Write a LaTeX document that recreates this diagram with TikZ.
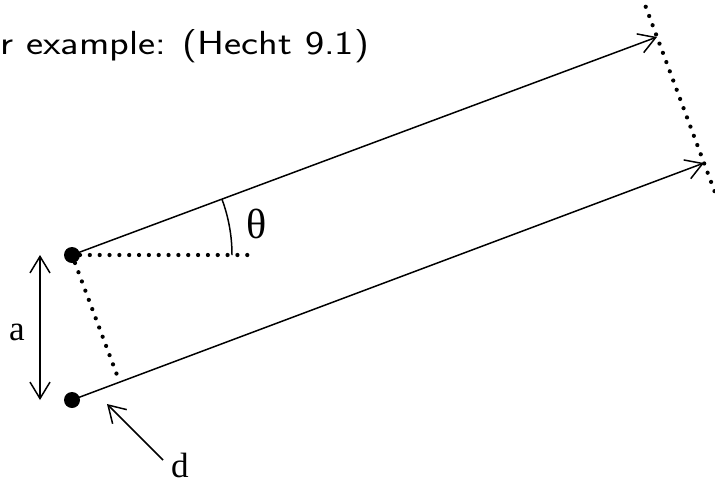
\documentclass[tikz,border=0pt]{standalone}
\usepackage{fontspec}
\newfontfamily\lblfont{Liberation Serif}
\usepackage{tikz}
\usetikzlibrary{calc, arrows.meta}

\tikzset{
  ray/.style = {line width=0.85pt, -{Straight Barb[length=0.33cm, width=0.4cm]}},
  dotline/.style = {line width=2.4pt, line cap=round, dash pattern=on 0pt off 5.6pt},
  src/.style = {circle, fill, inner sep=0pt, minimum size=0.32cm},
  lbl/.style = {font=\lblfont\fontsize{20}{22}\selectfont, inner sep=0pt}
}

\begin{document}
\begin{tikzpicture}[x=0.02cm, y=-0.02cm]
        \useasboundingbox (0,0) rectangle (715,484);

        \node[anchor=base west, inner sep=0pt, font=\sffamily\fontsize{19}{22}\selectfont] (title) at (0,54) {\scalebox{1.22}[1]{r example: (Hecht 9.1)}};

        % Sources
        \node[src] (A) at (72,255) {};
        \node[src] (B) at (72,400) {};

        \coordinate (tip1) at (657,37);
        \coordinate (tip2) at (704,163);

        % Rays
        \draw[ray] (A.center) -- (tip1);
        \draw[ray] (B.center) -- (tip2);

        % Wavefront and construction lines
        \draw[dotline] ($(tip1)!-0.24!(tip2)$) -- ($(tip2)!-0.26!(tip1)$);
        \draw[dotline] (A.center) ++(8,0) -- (257,255);
        \coordinate (foot) at ($(B.center)!(A.center)!(tip2)$);
        \draw[dotline] (A.center) ++(3,8) -- (foot);

        % Angle
        \draw[line width=0.85pt] (232,255) arc[start angle=0, end angle=-20.4, radius=160];
        \node[lbl, font=\lblfont\fontsize{24}{26}\selectfont] (theta) at (257,224) {θ};

        % Spacing a
        \draw[line width=0.85pt, {Straight Barb[length=0.33cm, width=0.4cm]}-{Straight Barb[length=0.33cm, width=0.4cm]}] (40,255) -- (40,400);
        \node[lbl] (alab) at (17,332) {a};

        % Path difference d
        \coordinate (dtail) at (163,460);
        \draw[ray] (dtail) -- (107,404);
        \node[lbl] (dlab) at (180,465) {d};
\end{tikzpicture}
\end{document}
